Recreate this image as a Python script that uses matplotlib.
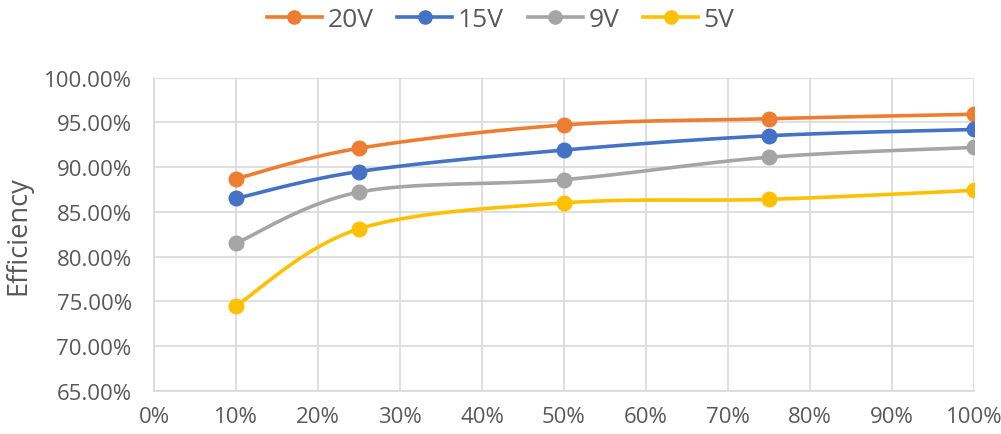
import numpy as np
import matplotlib
matplotlib.use("Agg")
import matplotlib.pyplot as plt
from matplotlib.ticker import FuncFormatter, MultipleLocator

load = [10, 25, 50, 75, 100]
series_names = ["20V", "15V", "9V", "5V"]
eff_20v = [88.7, 92.1, 94.7, 95.4, 95.9]
eff_15v = [86.5, 89.5, 91.9, 93.5, 94.2]
eff_9v = [81.5, 87.2, 88.6, 91.1, 92.2]
eff_5v = [74.5, 83.1, 86.0, 86.4, 87.4]
colors = ["#ED7D31", "#4472C4", "#A5A5A5", "#FFC000"]

plt.rcParams['font.family'] = ['Open Sans', 'DejaVu Sans']
txt = "#595959"

def smooth(x, y, n=30):
    x = np.asarray(x, float); y = np.asarray(y, float)
    P = np.column_stack([x, y])
    m = len(P)
    out = [P[0]]
    for i in range(m - 1):
        p0 = P[i - 1] if i > 0 else P[i]
        p1 = P[i]; p2 = P[i + 1]
        p3 = P[i + 2] if i + 2 < m else P[i + 1]
        c1 = p1 + (p2 - p0) / 6.0
        c2 = p2 - (p3 - p1) / 6.0
        t = np.linspace(0, 1, n)[1:, None]
        b = ((1 - t) ** 3) * p1 + 3 * ((1 - t) ** 2) * t * c1 + 3 * (1 - t) * t ** 2 * c2 + t ** 3 * p2
        out.extend(b)
    out = np.array(out)
    return out[:, 0], out[:, 1]

fig = plt.figure(figsize=(10.01, 4.35), dpi=100)
ax = fig.add_axes([0.1538, 0.0989, 0.973 - 0.1538, 0.8195 - 0.0989])

for name, vals, c in zip(series_names, [eff_20v, eff_15v, eff_9v, eff_5v], colors):
    sx, sy = smooth(load, vals)
    ax.plot(sx, sy, color=c, lw=2.6, solid_capstyle='round', zorder=3)
    ax.plot(load, vals, 'o', color=c, ms=10.5, zorder=4)
    ax.plot([], [], '-o', color=c, lw=2.6, ms=9.5, label=name)

ax.set_xlim(0, 100)
ax.set_ylim(65, 100)
ax.xaxis.set_major_locator(MultipleLocator(10))
ax.yaxis.set_major_locator(MultipleLocator(5))
ax.xaxis.set_major_formatter(FuncFormatter(lambda v, p: f"{v:.0f}%"))
ax.yaxis.set_major_formatter(FuncFormatter(lambda v, p: f"{v:.2f}%"))
ax.grid(True, color="#D9D9D9", lw=1.2)
ax.set_axisbelow(True)
for s in ["top", "right"]:
    ax.spines[s].set_visible(False)
for s in ["left", "bottom"]:
    ax.spines[s].set_color("#D9D9D9")
    ax.spines[s].set_linewidth(1.2)
ax.tick_params(length=0, labelsize=16, colors=txt)
ax.tick_params(axis='y', pad=16)
ax.tick_params(axis='x', pad=11)
ax.set_ylabel("Efficiency", fontsize=19.5, color=txt)
ax.yaxis.set_label_coords(-0.148, 0.5)

leg = fig.legend(loc='center', bbox_to_anchor=(0.5, 0.953), ncol=4, frameon=False,
                 fontsize=19, handlelength=2.1, columnspacing=0.9, handletextpad=0.2)
for t in leg.get_texts():
    t.set_color(txt)

fig.savefig("out.png", dpi=100, facecolor="white")
